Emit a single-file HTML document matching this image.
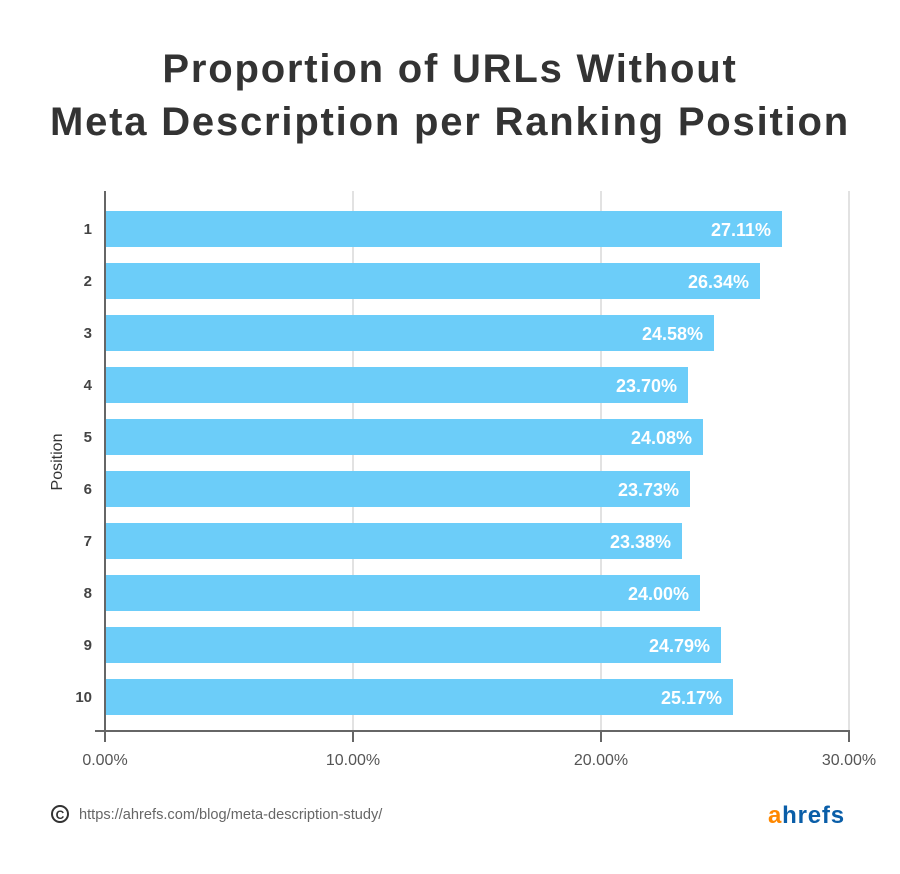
<!DOCTYPE html>
<html><head><meta charset="utf-8"><style>
html,body{margin:0;padding:0;background:#fff;}
svg{display:block;font-family:"Liberation Sans",sans-serif;}
</style></head><body>
<svg width="900" height="874" viewBox="0 0 900 874">
<text x="450" y="82" text-anchor="middle" font-size="40" font-weight="bold" fill="#333" letter-spacing="1.8">Proportion of URLs Without</text>
<text x="450" y="135" text-anchor="middle" font-size="40" font-weight="bold" fill="#333" letter-spacing="1.8">Meta Description per Ranking Position</text>
<g stroke="#e2e2e2" stroke-width="2">
<line x1="353" y1="191" x2="353" y2="731"/>
<line x1="601" y1="191" x2="601" y2="731"/>
<line x1="849" y1="191" x2="849" y2="731"/>
</g>
<g fill="#6ccdf9">
<rect x="105" y="211" width="677" height="36"/>
<rect x="105" y="263" width="655" height="36"/>
<rect x="105" y="315" width="609" height="36"/>
<rect x="105" y="367" width="583" height="36"/>
<rect x="105" y="419" width="598" height="36"/>
<rect x="105" y="471" width="585" height="36"/>
<rect x="105" y="523" width="577" height="36"/>
<rect x="105" y="575" width="595" height="36"/>
<rect x="105" y="627" width="616" height="36"/>
<rect x="105" y="679" width="628" height="36"/>
</g>
<g fill="#fff" font-size="18" font-weight="bold" text-anchor="end">
<text x="771" y="236">27.11%</text>
<text x="749" y="288">26.34%</text>
<text x="703" y="340">24.58%</text>
<text x="677" y="392">23.70%</text>
<text x="692" y="444">24.08%</text>
<text x="679" y="496">23.73%</text>
<text x="671" y="548">23.38%</text>
<text x="689" y="600">24.00%</text>
<text x="710" y="652">24.79%</text>
<text x="722" y="704">25.17%</text>
</g>
<g fill="#444" font-size="15" font-weight="bold" text-anchor="end">
<text x="92" y="234">1</text><text x="92" y="286">2</text><text x="92" y="338">3</text>
<text x="92" y="390">4</text><text x="92" y="442">5</text><text x="92" y="494">6</text>
<text x="92" y="546">7</text><text x="92" y="598">8</text><text x="92" y="650">9</text>
<text x="92" y="702">10</text>
</g>
<text transform="translate(62,462) rotate(-90)" text-anchor="middle" font-size="16" fill="#333">Position</text>
<g stroke="#666" stroke-width="2">
<line x1="105" y1="191" x2="105" y2="742"/>
<line x1="95" y1="731" x2="850" y2="731"/>
<line x1="353" y1="731" x2="353" y2="742"/>
<line x1="601" y1="731" x2="601" y2="742"/>
<line x1="849" y1="731" x2="849" y2="742"/>
</g>
<g fill="#555" font-size="16" text-anchor="middle">
<text x="105" y="765">0.00%</text><text x="353" y="765">10.00%</text>
<text x="601" y="765">20.00%</text><text x="849" y="765">30.00%</text>
</g>
<circle cx="60" cy="814" r="8" fill="none" stroke="#333" stroke-width="2"/>
<text x="60" y="819" text-anchor="middle" font-size="12" font-weight="bold" fill="#333">C</text>
<text x="79" y="819" font-size="14.6" fill="#666">https://ahrefs.com/blog/meta-description-study/</text>
<text x="768" y="823" font-size="24" font-weight="bold" fill="#ff8800" letter-spacing="0.8">a<tspan fill="#0a5ea8">hrefs</tspan></text>
</svg>
</body></html>
